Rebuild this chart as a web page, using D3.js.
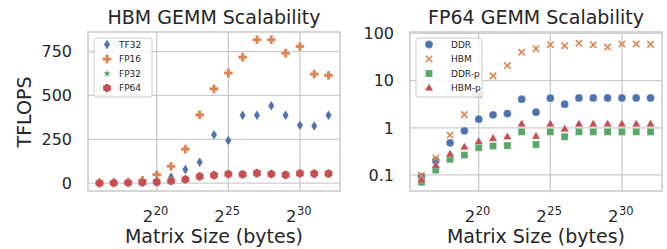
<!DOCTYPE html>
<html>
<head>
<meta charset="utf-8">
<script src="https://cdn.jsdelivr.net/npm/d3@7"></script>
<style>
  body { margin: 0; background: #fff; }
  text { font-family: "DejaVu Sans", sans-serif; fill: #262626; }
</style>
</head>
<body>
<div id="chart"></div>
<script>
// Data ---------- ---------- ----------
let sizeExp = [16,17,18,19,20,21,22,23,24,25,26,27,28,29,30,31,32]; // matrix size = 2^exp bytes

// HBM GEMM (TFLOPS)
let tf32 = [2,3,5,8,14,34,77,119,276,243,387,387,441,387,330,326,387];
let fp16 = [1,3,6,16,48,96,194,389,538,628,718,818,818,741,780,622,615];
let fp32 = [0,1,2,3,5,10,18,32,42,42,48,48,50,47,52,48,52];
let fp64 = [0,1,2,4,6,12,21,38,45,52,50,57,52,47,55,54,54];

// FP64 GEMM (TFLOPS, log)
let ddr  = [0.092,0.20,0.48,0.86,1.52,1.88,2.0,4.04,2.14,4.24,3.16,4.3,4.3,4.3,4.3,4.3,4.3];
let hbm  = [0.097,0.23,0.70,1.9,5.1,12.6,20.8,39.8,47.6,57.8,55,61.7,57.8,51.5,59.7,59.7,58.6];
let ddrP = [0.07,0.127,0.214,0.264,0.378,0.41,0.42,0.82,0.44,0.82,0.645,0.82,0.82,0.82,0.82,0.82,0.82];
let hbmP = [0.078,0.158,0.277,0.39,0.51,0.595,0.645,1.2,0.66,1.2,0.94,1.2,1.2,1.2,1.2,1.2,1.2];

let xTicks = [20,25,30];
let yTicksLin = [0,250,500,750];
let yTicksLog = [0.1,1,10,100];
let yTickLogLabels = ["0.1","1","10","100"];

// Hard Code values ---------- ---------- ----------
let canvasW = 667, canvasH = 249;
let plotTop = 32, plotBottom = 191;
let colors = {blue:"#4C72B0", orange:"#DD8452", green:"#55A868", red:"#C44E52"};
let gridC = "#cccccc";

let svg = d3.select("#chart").append("svg").attr("width", canvasW).attr("height", canvasH);

// Marker shapes ---------- ---------- ----------
function poly(pts){ return "M" + pts.map(p=>p[0].toFixed(2)+","+p[1].toFixed(2)).join("L") + "Z"; }
let shapes = {
  thinDiamond: r => poly([[0,-r],[r*0.62,0],[0,r],[-r*0.62,0]]),
  plusFilled: r => { let a=r, b=r*0.36; return poly([[-b,-a],[b,-a],[b,-b],[a,-b],[a,b],[b,b],[b,a],[-b,a],[-b,b],[-a,b],[-a,-b],[-b,-b]]); },
  star: r => { let p=[]; for(let i=0;i<10;i++){ let rr = i%2 ? r*0.42 : r; let t = -Math.PI/2 + i*Math.PI/5; p.push([rr*Math.cos(t), rr*Math.sin(t)]); } return poly(p); },
  hexagon: r => { let p=[]; for(let i=0;i<6;i++){ let t = -Math.PI/2 + i*Math.PI/3; p.push([r*Math.cos(t), r*Math.sin(t)]); } return poly(p); },
  circle: r => "M"+r+",0A"+r+","+r+" 0 1,1 "+(-r)+",0A"+r+","+r+" 0 1,1 "+r+",0Z",
  square: r => poly([[-r,-r],[r,-r],[r,r],[-r,r]]),
  triangle: r => poly([[0,-r*1.1],[r,r*0.65],[-r,r*0.65]]),
  cross: r => "M"+(-r)+","+(-r)+"L"+r+","+r+"M"+(-r)+","+r+"L"+r+","+(-r)
};

function drawMarker(g, shape, r, color, x, y){
  let p = g.append("path").attr("d", shapes[shape](r)).attr("transform","translate("+x+","+y+")");
  if(shape==="cross") p.attr("fill","none").attr("stroke",color).attr("stroke-width",1.6);
  else p.attr("fill",color).attr("stroke","white").attr("stroke-width",0.4).attr("stroke-opacity",0.6);
  return p;
}

// Panel ---------- ---------- ----------
function panel(opt){
  let g = svg.append("g");
  let x = d3.scaleLinear().domain([15.2,32.8]).range([opt.x0,opt.x1]);
  let y = opt.y;

  // grid
  g.selectAll(".vg").data(xTicks).enter().append("line")
    .attr("x1",d=>x(d)).attr("x2",d=>x(d)).attr("y1",plotTop).attr("y2",plotBottom)
    .attr("stroke",gridC).attr("stroke-width",1.3);
  g.selectAll(".hg").data(opt.yTicks).enter().append("line")
    .attr("x1",opt.x0).attr("x2",opt.x1).attr("y1",d=>y(d)).attr("y2",d=>y(d))
    .attr("stroke",gridC).attr("stroke-width",1.3);
  // spines
  g.append("rect").attr("x",opt.x0).attr("y",plotTop).attr("width",opt.x1-opt.x0).attr("height",plotBottom-plotTop)
    .attr("fill","none").attr("stroke",gridC).attr("stroke-width",1.6);

  // y tick labels
  g.selectAll(".yt").data(opt.yTicks).enter().append("text")
    .attr("x",opt.x0-16).attr("y",d=>y(d)+5.8).attr("text-anchor","end")
    .style("font-size","16px").text((d,i)=>opt.yLabels[i]);
  // x tick labels: 2 with superscript exponent
  g.selectAll(".xtb").data(xTicks).enter().append("text")
    .attr("x",d=>x(d)-3.5).attr("y",222).attr("text-anchor","end")
    .style("font-size","16.5px").text("2");
  g.selectAll(".xts").data(xTicks).enter().append("text")
    .attr("x",d=>x(d)-3).attr("y",214.5).attr("text-anchor","start")
    .style("font-size","11.5px").text(d=>d);
  // x label
  g.append("text").attr("x",(opt.x0+opt.x1)/2).attr("y",243).attr("text-anchor","middle")
    .style("font-size","19px").text("Matrix Size (bytes)");
  // title
  g.append("text").attr("x",(opt.x0+opt.x1)/2).attr("y",24).attr("text-anchor","middle")
    .style("font-size","19px").text(opt.title);

  // points
  opt.series.forEach(s=>{
    s.values.forEach((v,i)=> drawMarker(g, s.shape, s.r, s.color, x(sizeExp[i]), y(v)));
  });

  // legend
  let lg = g.append("g").attr("transform","translate("+(opt.x0+6)+","+(plotTop+6)+")");
  lg.append("rect").attr("x",0).attr("y",0).attr("width",opt.legendW).attr("height",59).attr("rx",2)
    .attr("fill","white").attr("fill-opacity",0.8).attr("stroke",gridC).attr("stroke-width",1);
  opt.series.forEach((s,i)=>{
    let yy = 6.5 + i*14.5;
    drawMarker(lg, s.shape, s.r, s.color, 13, yy);
    lg.append("text").attr("x",opt.legendTx).attr("y",yy+3.3).style("font-size","9px").text(s.name);
  });
  return g;
}

let yLin = d3.scaleLinear().domain([-45,862]).range([plotBottom,plotTop]);
panel({
  x0:88, x1:340, y:yLin, yTicks:yTicksLin, yLabels:yTicksLin.map(String),
  title:"HBM GEMM Scalability", legendW:58, legendTx:25,
  series:[
    {name:"TF32", values:tf32, shape:"thinDiamond", r:5, color:colors.blue},
    {name:"FP16", values:fp16, shape:"plusFilled", r:4.4, color:colors.orange},
    {name:"FP32", values:fp32, shape:"star", r:4, color:colors.green},
    {name:"FP64", values:fp64, shape:"hexagon", r:4.6, color:colors.red}
  ]
});

let yLog = d3.scaleLog().domain([Math.pow(10,-1.34), Math.pow(10,2.03)]).range([plotBottom,plotTop]);
panel({
  x0:410, x1:662, y:yLog, yTicks:yTicksLog, yLabels:yTickLogLabels,
  title:"FP64 GEMM Scalability", legendW:66, legendTx:35,
  series:[
    {name:"DDR", values:ddr, shape:"circle", r:3.9, color:colors.blue},
    {name:"HBM", values:hbm, shape:"cross", r:3.2, color:colors.orange},
    {name:"DDR-p", values:ddrP, shape:"square", r:3.5, color:colors.green},
    {name:"HBM-p", values:hbmP, shape:"triangle", r:4.2, color:colors.red}
  ]
});

// y label
svg.append("text").attr("transform","translate(31,112) rotate(-90)").attr("text-anchor","middle")
  .style("font-size","19px").text("TFLOPS");
</script>
</body>
</html>
